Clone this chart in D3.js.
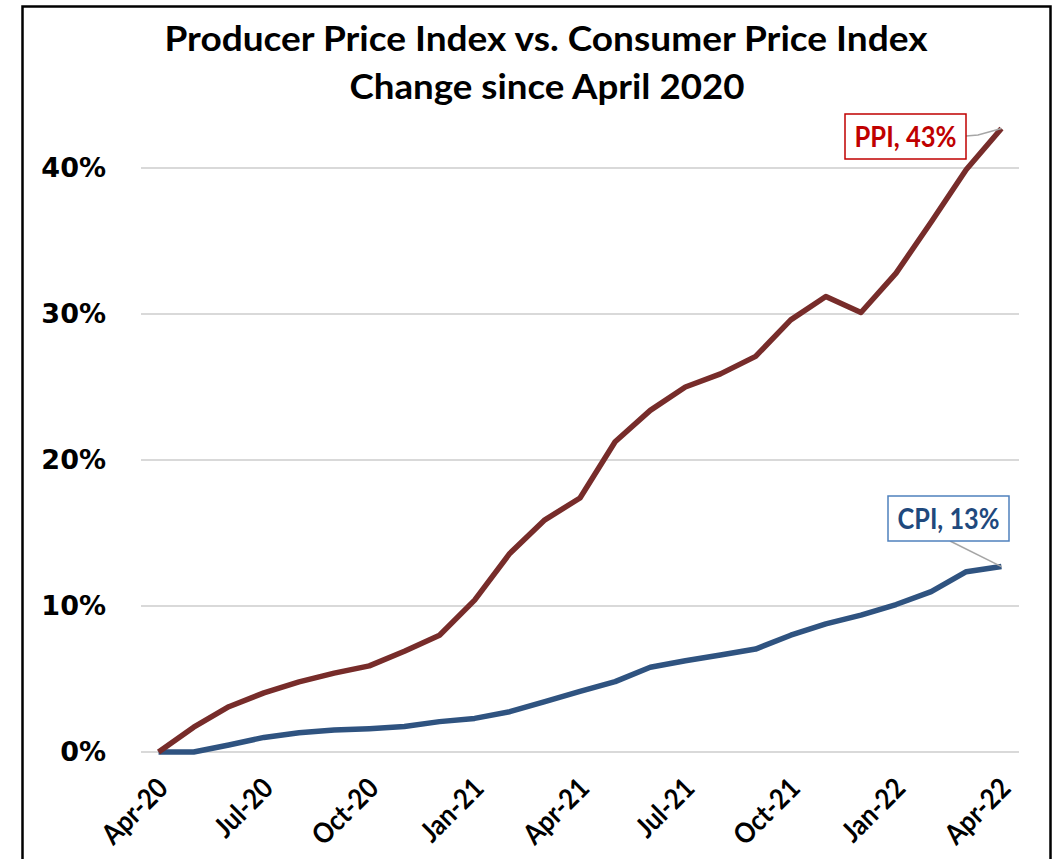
<!DOCTYPE html>
<html>
<head>
<meta charset="utf-8">
<script src="https://cdn.jsdelivr.net/npm/d3@7"></script>
<style>
  body { margin: 0; background: #fff; }
</style>
</head>
<body>
<div id="app"></div>
<script>
// months Apr-20 .. Apr-22
const months = ["Apr-20","May-20","Jun-20","Jul-20","Aug-20","Sep-20","Oct-20","Nov-20","Dec-20",
  "Jan-21","Feb-21","Mar-21","Apr-21","May-21","Jun-21","Jul-21","Aug-21","Sep-21","Oct-21","Nov-21","Dec-21",
  "Jan-22","Feb-22","Mar-22","Apr-22"]
const tickMonths = ["Apr-20","Jul-20","Oct-20","Jan-21","Apr-21","Jul-21","Oct-21","Jan-22","Apr-22"]
const ppi = [0, 1.7, 3.1, 4.05, 4.8, 5.4, 5.9, 6.9, 8.0, 10.4, 13.6, 15.9, 17.4, 21.25, 23.4, 25.0, 25.9,
  27.1, 29.6, 31.2, 30.1, 32.8, 36.3, 39.9, 42.7]
const cpi = [0, 0, 0.48, 1.0, 1.32, 1.5, 1.6, 1.75, 2.08, 2.3, 2.76, 3.45, 4.15, 4.82, 5.8, 6.25, 6.64,
  7.05, 8.0, 8.77, 9.38, 10.1, 10.98, 12.35, 12.7]
const yTicks = [0, 10, 20, 30, 40]

const w = 1061, h = 859
const svg = d3.select("#app").append("svg")
  .attr("width", w)
  .attr("height", h)
  .style("display", "block")

// outer frame
svg.append("rect")
  .attr("x", 22.5).attr("y", 6.5)
  .attr("width", 1028).attr("height", 870)
  .attr("fill", "none").attr("stroke", "#000").attr("stroke-width", 2.5)

// title
const title = svg.append("g").attr("font-family", "Lato, 'Open Sans', sans-serif")
  .attr("font-weight", "bold").attr("font-size", 35).attr("fill", "#000")
title.append("text").attr("x", 546).attr("y", 51).attr("text-anchor", "middle")
  .attr("textLength", 763).attr("lengthAdjust", "spacingAndGlyphs")
  .text("Producer Price Index vs. Consumer Price Index")
title.append("text").attr("x", 547).attr("y", 99).attr("text-anchor", "middle")
  .attr("textLength", 395).attr("lengthAdjust", "spacingAndGlyphs")
  .text("Change since April 2020")

const x = d3.scalePoint().domain(months).range([141, 1019]).padding(0.5)
const y = d3.scaleLinear().domain([0, 40]).range([752, 168])

// gridlines
svg.append("g").selectAll("line")
  .data(yTicks)
  .enter().append("line")
  .attr("x1", 141).attr("x2", 1019)
  .attr("y1", d => y(d)).attr("y2", d => y(d))
  .attr("stroke", "#D9D9D9").attr("stroke-width", 2)

// y axis labels
const yAxis = d3.axisLeft(y).tickValues(yTicks).tickSize(0).tickPadding(0)
  .tickFormat(d => d + "%")
const yg = svg.append("g").attr("transform", "translate(106,0)").call(yAxis)
yg.select(".domain").remove()
yg.selectAll("text")
  .attr("font-family", "'DejaVu Sans', Verdana, sans-serif")
  .attr("font-weight", "bold").attr("font-size", 27).attr("fill", "#000")

// x axis labels
const xAxis = d3.axisBottom(x).tickValues(tickMonths).tickSize(0).tickPadding(0)
const xg = svg.append("g").call(xAxis)
xg.select(".domain").remove()
xg.selectAll(".tick").attr("transform", d => "translate(" + (x(d) + 11) + ",790)")
xg.selectAll("text")
  .attr("font-family", "Lato, 'Open Sans', sans-serif")
  .attr("font-weight", "bold").attr("font-size", 28).attr("fill", "#000")
  .attr("text-anchor", "end").attr("dy", 0).attr("y", 0)
  .attr("transform", "rotate(-45)")
  .each(function () {
    const len = this.getComputedTextLength()
    d3.select(this).attr("textLength", len * 0.9).attr("lengthAdjust", "spacingAndGlyphs")
  })

const line = d3.line().x((d, i) => x(months[i])).y(d => y(d))

svg.append("path").datum(cpi)
  .attr("d", line).attr("fill", "none")
  .attr("stroke", "#2F5380").attr("stroke-width", 5.5).attr("stroke-linejoin", "round")

svg.append("path").datum(ppi)
  .attr("d", line).attr("fill", "none")
  .attr("stroke", "#772C2A").attr("stroke-width", 5.5).attr("stroke-linejoin", "round")

// data labels with leader lines
const last = months.length - 1
const labels = [
  {text: "PPI, 43%", color: "#C00000", border: "#C00000", bx: 845, by: 114, bw: 121, bh: 45,
   lead: [[966, 136], [978, 135], [x(months[last]), y(ppi[last])]]},
  {text: "CPI, 13%", color: "#1F497D", border: "#4F81BD", bx: 888, by: 496, bw: 121, bh: 45,
   lead: [[950, 541], [x(months[last]), y(cpi[last])]]}
]
labels.forEach(l => {
  svg.append("path")
    .attr("d", d3.line()(l.lead))
    .attr("fill", "none").attr("stroke", "#A6A6A6").attr("stroke-width", 1.5)
  svg.append("rect")
    .attr("x", l.bx).attr("y", l.by).attr("width", l.bw).attr("height", l.bh)
    .attr("fill", "#fff").attr("stroke", l.border).attr("stroke-width", 1.5)
  svg.append("text")
    .attr("x", l.bx + l.bw / 2).attr("y", l.by + l.bh / 2 + 10)
    .attr("text-anchor", "middle")
    .attr("font-family", "Lato, 'Open Sans', sans-serif")
    .attr("font-weight", "bold").attr("font-size", 28).attr("fill", l.color)
    .attr("textLength", 102).attr("lengthAdjust", "spacingAndGlyphs")
    .text(l.text)
})
</script>
</body>
</html>
